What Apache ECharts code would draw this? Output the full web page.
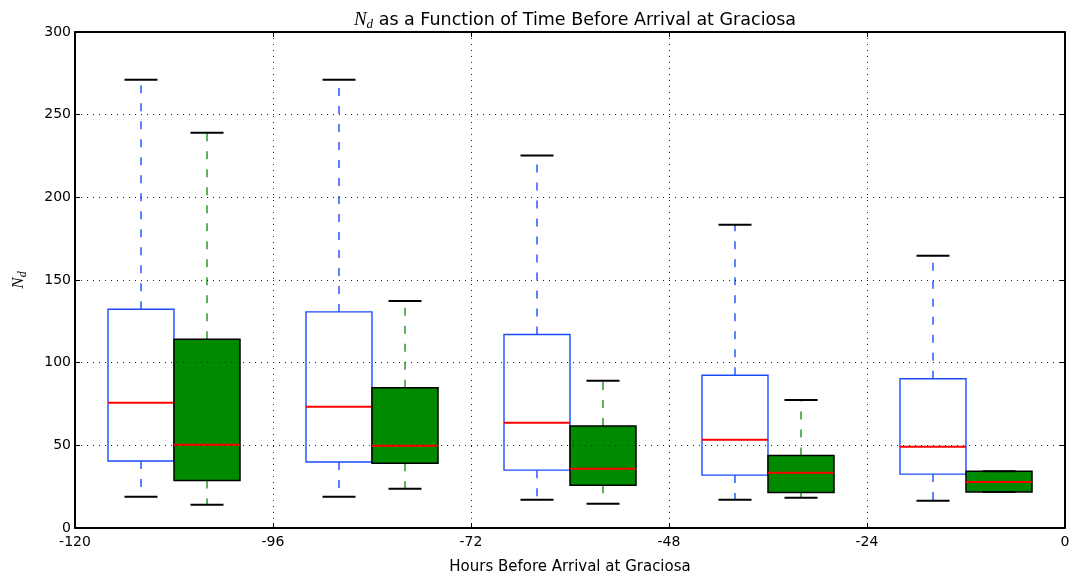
<!DOCTYPE html>
<html>
<head>
<meta charset="utf-8">
<title>Nd vs time before arrival</title>
<script src="https://cdn.jsdelivr.net/npm/echarts@6/dist/echarts.min.js"></script>
<style>
  html, body { margin: 0; padding: 0; background: #fff; }
  #chart { width: 1078px; height: 573px; }
</style>
</head>
<body>
<div id="chart"></div>
<script>
// Box centres in hours before arrival (two boxes per 24 h window)
const blueCenters = [-112, -88, -64, -40, -16];
const greenCenters = [-104, -80, -56, -32, -8];

// Blue boxes: whisker low, Q1, median, Q3, whisker high
const blueMin = [18.9, 18.9, 17.1, 17.1, 16.5];
const blueQ1  = [40.5, 39.9, 35.0, 32.0, 32.6];
const blueMed = [75.8, 73.4, 63.7, 53.4, 49.2];
const blueQ3  = [132.3, 130.7, 117.0, 92.4, 90.3];
const blueMax = [271.1, 271.1, 225.3, 183.4, 164.6];

// Green boxes
const greenMin = [14.0, 23.7, 14.6, 18.3, 21.7];
const greenQ1  = [28.8, 39.1, 25.8, 21.5, 21.7];
const greenMed = [50.4, 49.8, 35.8, 33.4, 27.8];
const greenQ3  = [114.2, 84.9, 61.7, 43.9, 34.4];
const greenMax = [239.0, 137.3, 89.1, 77.4, 34.4];

const xTicks = { min: -120, max: 0, interval: 24 };
const yTicks = { min: 0, max: 300, interval: 50 };

const BOX_HALF = 4;   // hours
const CAP_HALF = 2;   // hours

function rows(c, mn, q1, md, q3, mx) {
  return c.map((x, i) => [x, mn[i], q1[i], md[i], q3[i], mx[i]]);
}

function makeRenderer(look) {
  return function (params, api) {
    const x = api.value(0), mn = api.value(1), q1 = api.value(2),
          md = api.value(3), q3 = api.value(4), mx = api.value(5);
    const p = (xx, yy) => api.coord([xx, yy]);
    const cx = p(x, 0)[0];
    const l = p(x - BOX_HALF, 0)[0], r = p(x + BOX_HALF, 0)[0];
    const cl = p(x - CAP_HALF, 0)[0], cr = p(x + CAP_HALF, 0)[0];
    const yMn = p(x, mn)[1], yQ1 = p(x, q1)[1], yMd = p(x, md)[1],
          yQ3 = p(x, q3)[1], yMx = p(x, mx)[1];
    const dash = { stroke: look.whisker, lineWidth: 1.4, lineDash: [8, 10] };
    const cap = { stroke: '#000', lineWidth: 2 };
    return {
      type: 'group',
      children: [
        { type: 'line', shape: { x1: cx, y1: yQ3, x2: cx, y2: yMx }, style: dash },
        { type: 'line', shape: { x1: cx, y1: yQ1, x2: cx, y2: yMn }, style: dash },
        { type: 'rect', shape: { x: l, y: yQ3, width: r - l, height: yQ1 - yQ3 },
          style: { fill: look.fill, stroke: look.edge, lineWidth: look.edgeWidth } },
        { type: 'line', shape: { x1: l, y1: yMd, x2: r, y2: yMd },
          style: { stroke: '#ff0000', lineWidth: 2 } },
        { type: 'line', shape: { x1: cl, y1: yMx, x2: cr, y2: yMx }, style: cap },
        { type: 'line', shape: { x1: cl, y1: yMn, x2: cr, y2: yMn }, style: cap }
      ]
    };
  };
}

const font = 'DejaVu Sans';
const mathFont = '"Liberation Serif", "DejaVu Serif", serif';

const baseX = {
  type: 'value', min: xTicks.min, max: xTicks.max, interval: xTicks.interval,
  axisLine: { show: true, onZero: false, lineStyle: { color: '#000', width: 2 } },
  axisTick: { show: true, inside: true, length: 5, lineStyle: { color: '#000', width: 1 } }
};
const baseY = {
  type: 'value', min: yTicks.min, max: yTicks.max, interval: yTicks.interval,
  axisLine: { show: true, onZero: false, lineStyle: { color: '#000', width: 2 } },
  axisTick: { show: true, inside: true, length: 5, lineStyle: { color: '#000', width: 1 } }
};
const gridLine = { show: true, lineStyle: { color: '#222', width: 1, type: [1, 5] } };

const option = {
  animation: false,
  backgroundColor: '#fff',
  title: {
    text: '{n|N}{d|d}{t| as a Function of Time Before Arrival at Graciosa}',
    left: 570, top: 4, textAlign: 'center',
    textStyle: {
      fontWeight: 'normal',
      rich: {
        n: { fontFamily: mathFont, fontStyle: 'italic', fontWeight: 'normal', fontSize: 19, color: '#000', lineHeight: 22, verticalAlign: 'middle' },
        d: { fontFamily: mathFont, fontStyle: 'italic', fontWeight: 'normal', fontSize: 13, color: '#000', lineHeight: 12, verticalAlign: 'bottom' },
        t: { fontFamily: font, fontWeight: 'normal', fontSize: 17.5, color: '#000', lineHeight: 22, verticalAlign: 'middle' }
      }
    }
  },
  grid: { left: 75, right: 13, top: 32, bottom: 45, containLabel: false, outerBoundsMode: 'none' },
  xAxis: [
    Object.assign({}, baseX, {
      position: 'bottom', z: 5,
      name: 'Hours Before Arrival at Graciosa', nameLocation: 'middle', nameGap: 32,
      nameTextStyle: { fontFamily: font, fontSize: 15, color: '#000' },
      axisLabel: { show: true, margin: 7, fontFamily: font, fontSize: 14, color: '#000' },
      splitLine: gridLine
    }),
    Object.assign({}, baseX, {
      position: 'top', z: 5,
      axisLabel: { show: false }, splitLine: { show: false }
    })
  ],
  yAxis: [
    Object.assign({}, baseY, {
      position: 'left', z: 5,
      name: '{n|N}{d|d}', nameLocation: 'middle', nameGap: 46, nameRotate: 90,
      nameTextStyle: {
        rich: {
          n: { fontFamily: mathFont, fontStyle: 'italic', fontSize: 17, color: '#000', lineHeight: 20, verticalAlign: 'middle' },
          d: { fontFamily: mathFont, fontStyle: 'italic', fontSize: 12, color: '#000', lineHeight: 11, verticalAlign: 'bottom' }
        }
      },
      axisLabel: { show: true, margin: 4, fontFamily: font, fontSize: 14, color: '#000' },
      splitLine: gridLine
    }),
    Object.assign({}, baseY, {
      position: 'right', z: 5,
      axisLabel: { show: false }, splitLine: { show: false }
    })
  ],
  series: [
    {
      type: 'custom', name: 'blue', xAxisIndex: 0, yAxisIndex: 0, z: 2,
      renderItem: makeRenderer({ fill: 'none', edge: '#1a4cff', edgeWidth: 1.4, whisker: '#1a4cff' }),
      encode: { x: 0, y: [1, 2, 3, 4, 5] },
      data: rows(blueCenters, blueMin, blueQ1, blueMed, blueQ3, blueMax)
    },
    {
      type: 'custom', name: 'green', xAxisIndex: 0, yAxisIndex: 0, z: 2,
      renderItem: makeRenderer({ fill: '#008a00', edge: '#000', edgeWidth: 1.5, whisker: '#1f8f1f' }),
      encode: { x: 0, y: [1, 2, 3, 4, 5] },
      data: rows(greenCenters, greenMin, greenQ1, greenMed, greenQ3, greenMax)
    }
  ]
};

const chart = echarts.init(document.getElementById('chart'), null, { renderer: 'canvas' });
chart.setOption(option);
</script>
</body>
</html>
